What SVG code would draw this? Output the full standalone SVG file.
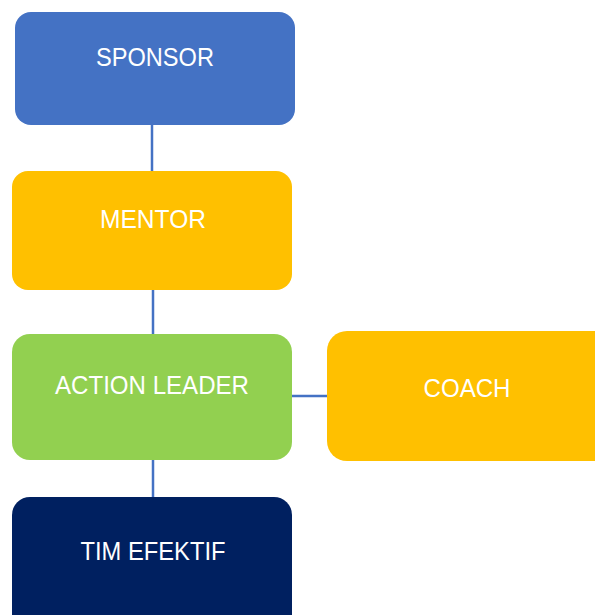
<svg xmlns="http://www.w3.org/2000/svg" width="595" height="615" viewBox="0 0 595 615">
<style>
.lbl{font-family:"Liberation Sans",Arial,sans-serif;font-size:26px;fill:#ffffff;text-anchor:middle}
.con{stroke:#4472C4;stroke-width:2.5;fill:none}
</style>
<rect width="595" height="615" fill="#ffffff"/>
<g id="connectors">
<line class="con" x1="152" y1="124" x2="152" y2="173"/>
<line class="con" x1="153" y1="289" x2="153" y2="336"/>
<line class="con" x1="291" y1="396" x2="328" y2="396"/>
<line class="con" x1="153" y1="459" x2="153" y2="498"/>
</g>
<g id="sponsor">
<rect x="15" y="12" width="280" height="113" rx="16" fill="#4472C4"/>
<text class="lbl" x="155" y="66" textLength="118" lengthAdjust="spacingAndGlyphs">SPONSOR</text>
</g>
<g id="mentor">
<rect x="12" y="171" width="280" height="119" rx="16" fill="#FFC000"/>
<text class="lbl" x="153" y="228" textLength="106" lengthAdjust="spacingAndGlyphs">MENTOR</text>
</g>
<g id="action-leader">
<rect x="12" y="334" width="280" height="126" rx="18" fill="#92D050"/>
<text class="lbl" x="152" y="394" textLength="194" lengthAdjust="spacingAndGlyphs">ACTION LEADER</text>
</g>
<g id="coach">
<rect x="327" y="331" width="290" height="130" rx="20" fill="#FFC000"/>
<text class="lbl" x="467" y="397" textLength="87" lengthAdjust="spacingAndGlyphs">COACH</text>
</g>
<g id="tim-efektif">
<rect x="12" y="497" width="280" height="140" rx="18" fill="#002060"/>
<text class="lbl" x="153" y="560" textLength="145" lengthAdjust="spacingAndGlyphs">TIM EFEKTIF</text>
</g>
</svg>
